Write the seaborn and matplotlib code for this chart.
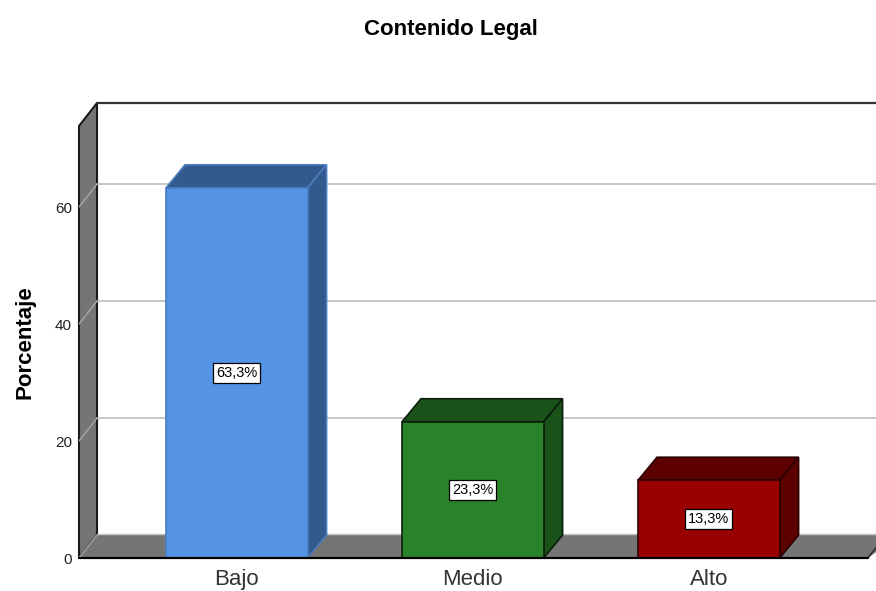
import matplotlib
matplotlib.use('Agg')
import matplotlib.pyplot as plt
from matplotlib.patches import Polygon
import pandas as pd
import seaborn as sns

# values
categories = ['Bajo', 'Medio', 'Alto']
percentages = [63.3, 23.3, 13.3]
y_ticks = [0, 20, 40, 60]

face_colors = ['#5593E4', '#2A832A', '#990000']
dark_colors = ['#335A8C', '#1A521A', '#5C0000']
edge_colors = ['#4A7DBE', '#0A1F0A', '#2A0000']

sns.set_theme(style='white')
plt.rcParams['font.family'] = ['Liberation Sans', 'DejaVu Sans']

W, H = 876, 591
fig = plt.figure(figsize=(W / 100, H / 100), dpi=100)
ax = fig.add_axes([79 / W, (H - 558) / H, (W - 79) / W, (558 - 103) / H])

df = pd.DataFrame({'cat': categories, 'pct': percentages})
sns.barplot(data=df, x='cat', y='pct', hue='cat', palette=face_colors, order=categories,
            width=0.6, saturation=1, legend=False, ax=ax, zorder=5)

x_left, x_right = -0.669, 2.708
y_top = 77.8
depth_x = 0.0763
depth_y = 3.93
bar_depth_x = 0.08
bar_w = 0.6
floor_end = 2.674
ax.set_xlim(x_left, x_right)
ax.set_ylim(0, y_top)

# side wall and floor
wall = '#757575'
ax.add_patch(Polygon([(x_left, 0), (x_left + depth_x, depth_y), (x_left + depth_x, y_top),
                      (x_left, y_top - depth_y)], fc=wall, ec='#1A1A1A', lw=1.5, zorder=1, clip_on=False))
ax.add_patch(Polygon([(x_left, 0), (x_left + depth_x, depth_y), (x_right + 0.1, depth_y),
                      (floor_end, 0)], fc=wall, ec='none', zorder=1))
ax.plot([x_left, floor_end], [0, 0], color='black', lw=1.6, zorder=6, clip_on=False)
ax.plot([floor_end, floor_end + depth_x], [0, depth_y], color='#222222', lw=1, zorder=2)
ax.plot([x_left + depth_x, x_right], [y_top, y_top], color='#333333', lw=1.6, zorder=2, clip_on=False)
ax.plot([x_left + depth_x, x_right], [depth_y + 0.2, depth_y + 0.2], color='#C4C4C4', lw=1, zorder=2)

# grid lines on the back wall and across the side wall
for t in y_ticks[1:]:
    ax.plot([x_left + depth_x, x_right], [t + depth_y, t + depth_y], color='#BDBDBD', lw=1.2, zorder=2)
    ax.plot([x_left, x_left + depth_x], [t, t + depth_y], color='#A8A8A8', lw=1, zorder=2)
ax.plot([x_left, x_left + depth_x], [0, depth_y], color='#A8A8A8', lw=1, zorder=2)

# 3d faces of the bars
for i, (bar, v) in enumerate(zip(ax.patches, percentages)):
    bar.set_edgecolor(edge_colors[i])
    bar.set_linewidth(1.2)
    l, r = i - bar_w / 2, i + bar_w / 2
    ax.add_patch(Polygon([(l, v), (l + bar_depth_x, v + depth_y), (r + bar_depth_x, v + depth_y), (r, v)],
                         fc=dark_colors[i], ec=edge_colors[i], lw=1.2, zorder=4))
    ax.add_patch(Polygon([(r, 0), (r + bar_depth_x, depth_y), (r + bar_depth_x, v + depth_y), (r, v)],
                         fc=dark_colors[i], ec=edge_colors[i], lw=1.2, zorder=4))
    ax.text(i, v / 2, f'{v:.1f}%'.replace('.', ','), ha='center', va='center', fontsize=10.5,
            color='black', zorder=7,
            bbox=dict(boxstyle='square,pad=0.2', fc='white', ec='black', lw=0.9))

sns.despine(ax=ax, left=True, bottom=True)
ax.set_yticks(y_ticks)
ax.set_yticklabels([str(t) for t in y_ticks], fontsize=11, color='#222222')
ax.set_xticks(range(len(categories)))
ax.set_xticklabels(categories, fontsize=16, color='#333333')
ax.tick_params(axis='y', length=0, pad=5)
ax.tick_params(axis='x', length=0, pad=8)
ax.set_xlabel('')
ax.set_ylabel('')

fig.text(25 / W, 1 - 342 / H, 'Porcentaje', rotation=90, ha='center', va='center',
         fontsize=16, fontweight='bold', color='black')
fig.text(451 / W, 1 - 29 / H, 'Contenido Legal', ha='center', va='center',
         fontsize=16, fontweight='bold', color='black')

fig.savefig('out.png', dpi=100, facecolor='white')
